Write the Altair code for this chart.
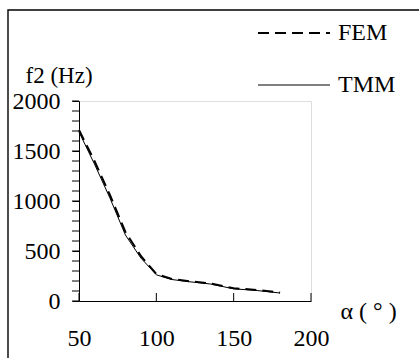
import altair as alt
import pandas as pd

# ---- data ----
alpha = [50, 60, 70, 80, 90, 100, 110, 120, 135, 150, 165, 180]
tmm = [1690, 1370, 1030, 660, 430, 262, 215, 195, 170, 122, 105, 80]
fem = [1710, 1400, 1060, 690, 450, 270, 220, 200, 175, 128, 110, 85]
series = ["FEM", "TMM"]
x_ticks = [50, 100, 150, 200]
y_labels = [0, 500, 1000, 1500, 2000]
y_minor = list(range(0, 2001, 100))

FONT = "Liberation Serif"
FS = 24
W, H = 232, 200
DASH = [11, 6]

df = pd.DataFrame({
    "alpha": alpha * 2,
    "f": fem + tmm,
    "series": ["FEM"] * len(alpha) + ["TMM"] * len(alpha),
})

xscale = alt.Scale(domain=[50, 200], nice=False, zero=False)
yscale = alt.Scale(domain=[0, 2000], nice=False)

xaxis = alt.Axis(
    values=x_ticks, grid=False, tickSize=0, labelPadding=37, labelBaseline="middle",
    labelFlush=False, labelFont=FONT, labelFontSize=FS, labelColor="black",
    domainColor="black", domainWidth=1,
    title="α ( ° )", titleFont=FONT, titleFontSize=FS, titleFontWeight="normal",
    titleColor="black", titleX=261, titleY=10, titleAlign="left", titleBaseline="middle",
)
yaxis = alt.Axis(
    values=y_labels, format="d",
    grid=False, tickSize=7, tickColor="black", labelPadding=12, labelBaseline="middle",
    labelOverlap=False, labelFlush=False, labelFont=FONT, labelFontSize=FS, labelColor="black",
    domainColor="black", domainWidth=1,
    title="f2 (Hz)", titleFont=FONT, titleFontSize=23, titleFontWeight="normal",
    titleColor="black", titleAngle=0, titleX=-54, titleY=-26, titleAlign="left",
    titleBaseline="middle",
)

base = alt.Chart(df)

fem_line = base.transform_filter(alt.datum.series == "FEM").mark_line(
    color="black", strokeWidth=2, strokeDash=DASH
).encode(
    x=alt.X("alpha:Q", scale=xscale, axis=xaxis),
    y=alt.Y("f:Q", scale=yscale, axis=yaxis),
)
tmm_line = base.transform_filter(alt.datum.series == "TMM").mark_line(
    color="black", strokeWidth=1
).encode(
    x=alt.X("alpha:Q", scale=xscale, axis=xaxis),
    y=alt.Y("f:Q", scale=yscale, axis=yaxis),
)

tick_df = pd.DataFrame({"t": x_ticks})
xticks = alt.Chart(tick_df).mark_rule(color="black", strokeWidth=1).encode(
    x=alt.X("t:Q", scale=xscale),
    y=alt.value(H),
    y2=alt.value(H - 8),
)
minor_df = pd.DataFrame({"m": y_minor})
yticks = alt.Chart(minor_df).mark_rule(color="black", strokeWidth=1).encode(
    y=alt.Y("m:Q", scale=yscale),
    x=alt.value(0),
    x2=alt.value(-7),
)

# legend (manual)
leg_fem = pd.DataFrame({"s": [series[0]]})
leg_tmm = pd.DataFrame({"s": [series[1]]})
fem_sym = alt.Chart(leg_fem).mark_rule(color="black", strokeWidth=2, strokeDash=DASH).encode(
    x=alt.value(179), x2=alt.value(251), y=alt.value(-68)
)
tmm_sym = alt.Chart(leg_tmm).mark_rule(color="black", strokeWidth=1).encode(
    x=alt.value(179), x2=alt.value(251), y=alt.value(-16)
)
fem_txt = alt.Chart(leg_fem).mark_text(
    font=FONT, fontSize=FS, align="left", baseline="middle", color="black"
).encode(x=alt.value(259), y=alt.value(-68), text="s:N")
tmm_txt = alt.Chart(leg_tmm).mark_text(
    font=FONT, fontSize=FS, align="left", baseline="middle", color="black"
).encode(x=alt.value(259), y=alt.value(-16), text="s:N")

frame = alt.Chart(pd.DataFrame({"a": [0]})).mark_rect(
    fillOpacity=0, stroke="black", strokeWidth=1.4
).encode(
    x=alt.value(-71), x2=alt.value(350), y=alt.value(-91), y2=alt.value(270)
)

chart = alt.layer(
    frame, xticks, yticks, tmm_line, fem_line, fem_sym, tmm_sym, fem_txt, tmm_txt
).properties(
    width=W, height=H,
    autosize=alt.AutoSizeParams(type="none"),
    padding={"left": 79, "top": 101, "right": 108, "bottom": 57},
).configure_view(stroke=None).configure(background="white")

chart.save("out.html", embed_options={"renderer": "svg", "actions": False})
